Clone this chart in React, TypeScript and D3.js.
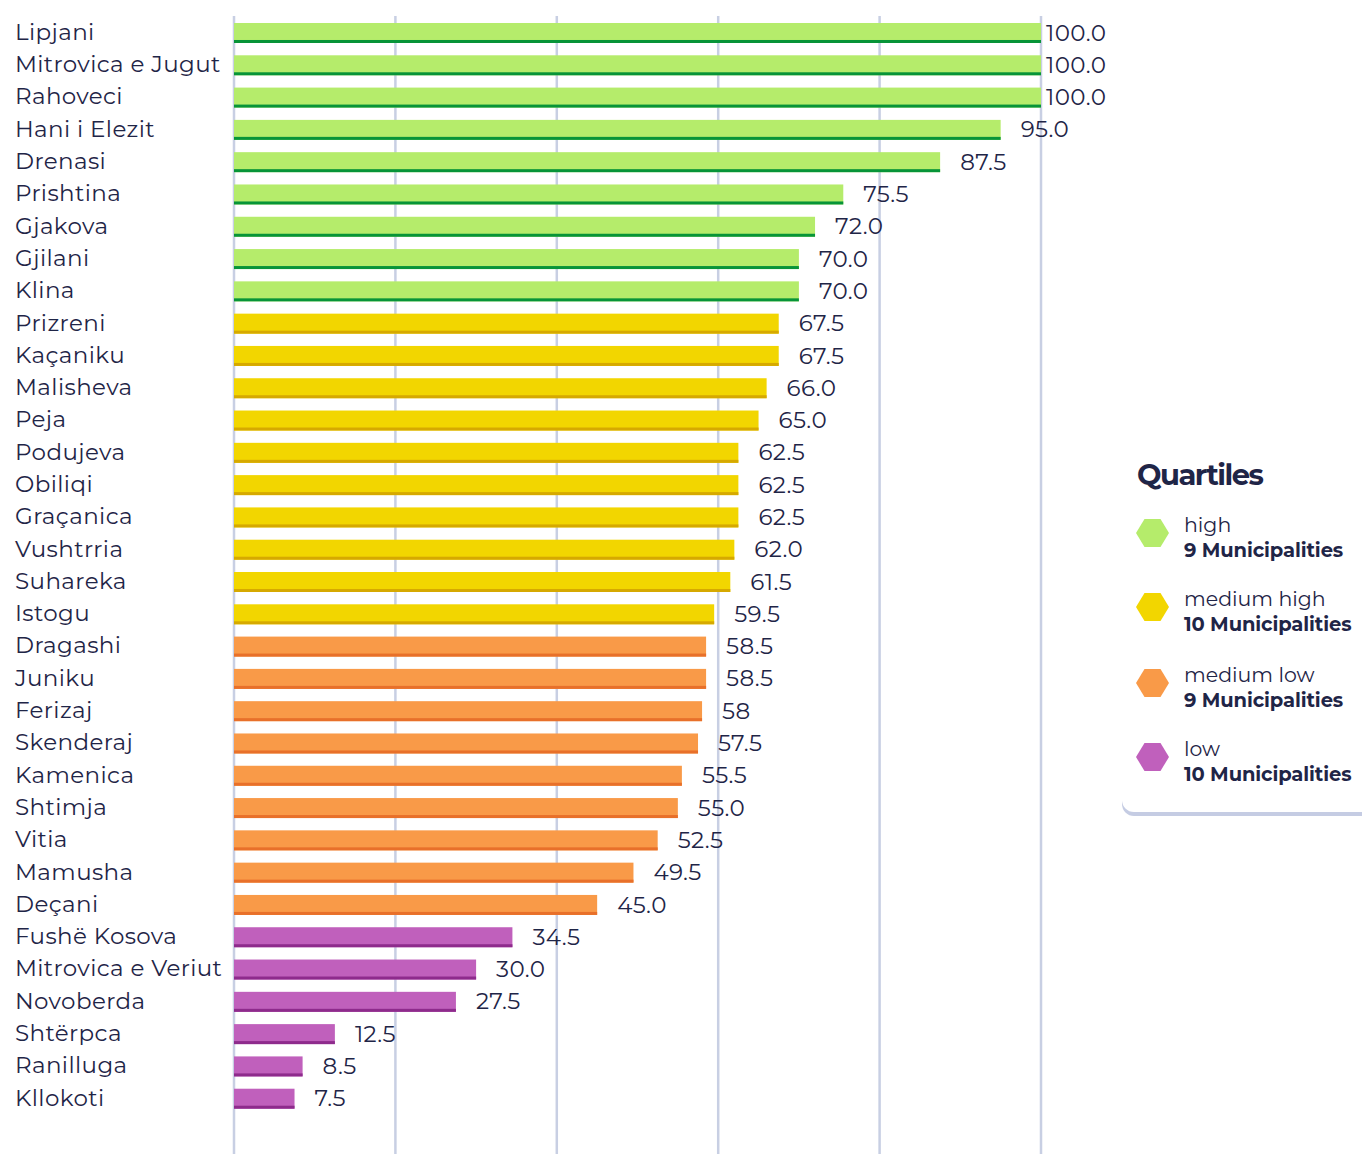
import React from "react";
import * as d3 from "d3";

const municipalities = [
  "Lipjani", "Mitrovica e Jugut", "Rahoveci", "Hani i Elezit", "Drenasi", "Prishtina", "Gjakova", "Gjilani", "Klina",
  "Prizreni", "Kaçaniku", "Malisheva", "Peja", "Podujeva", "Obiliqi", "Graçanica", "Vushtrria", "Suhareka", "Istogu",
  "Dragashi", "Juniku", "Ferizaj", "Skenderaj", "Kamenica", "Shtimja", "Vitia", "Mamusha", "Deçani",
  "Fushë Kosova", "Mitrovica e Veriut", "Novoberda", "Shtërpca", "Ranilluga", "Kllokoti",
];
const values = [
  100, 100, 100, 95, 87.5, 75.5, 72, 70, 70,
  67.5, 67.5, 66, 65, 62.5, 62.5, 62.5, 62, 61.5, 59.5,
  58.5, 58.5, 58, 57.5, 55.5, 55, 52.5, 49.5, 45,
  34.5, 30, 27.5, 12.5, 8.5, 7.5,
];
const valueLabels = [
  "100.0", "100.0", "100.0", "95.0", "87.5", "75.5", "72.0", "70.0", "70.0",
  "67.5", "67.5", "66.0", "65.0", "62.5", "62.5", "62.5", "62.0", "61.5", "59.5",
  "58.5", "58.5", "58", "57.5", "55.5", "55.0", "52.5", "49.5", "45.0",
  "34.5", "30.0", "27.5", "12.5", "8.5", "7.5",
];
const quartileOf = [
  0, 0, 0, 0, 0, 0, 0, 0, 0,
  1, 1, 1, 1, 1, 1, 1, 1, 1, 1,
  2, 2, 2, 2, 2, 2, 2, 2, 2,
  3, 3, 3, 3, 3, 3,
];
const quartileNames = ["high", "medium high", "medium low", "low"];
const quartileCounts = ["9 Municipalities", "10 Municipalities", "9 Municipalities", "10 Municipalities"];
const fillColors = ["#b5ec6b", "#f2d600", "#f99a48", "#c060bc"];
const edgeColors = ["#079438", "#d6a900", "#e8702a", "#8e2b8c"];
const xTicks = [0, 20, 40, 60, 80, 100];

const W = 1362;
const H = 1154;
const FONT = "Montserrat, 'Noto Sans', sans-serif";
const TEXT = "#1f2547";

export default function App() {
  const x = d3.scaleLinear().domain([0, 100]).range([234, 1041]);
  const y = d3.scaleBand<string>().domain(municipalities).range([23, 1108.7]).paddingInner(0.381).paddingOuter(0);
  const bw = y.bandwidth();
  const hex = (cx: number, cy: number) => {
    const pts: [number, number][] = [
      [cx - 16.5, cy], [cx - 8, cy - 14], [cx + 8, cy - 14], [cx + 16.5, cy], [cx + 8, cy + 14], [cx - 8, cy + 14],
    ];
    return d3.line()(pts)! + "Z";
  };
  const legendY = [533, 607, 683, 757];
  return (
    <svg width={W} height={H} style={{ position: "absolute", left: 0, top: 0 }} fontFamily={FONT}>
      <rect width={W} height={H} fill="#ffffff" />
      {xTicks.map((t) => (
        <line key={t} x1={x(t)} x2={x(t)} y1={16} y2={H} stroke="#c8cfe3" strokeWidth={2.5} />
      ))}
      {municipalities.map((m, i) => {
        const y0 = y(m)!;
        const q = quartileOf[i];
        const xe = x(values[i]);
        const lx = Math.min(xe + 20, x(100) + 5);
        return (
          <g key={m}>
            <text x={15} y={y0 + bw / 2} dy="0.3em" fontSize={23} letterSpacing={0.4} fill={TEXT}>{m}</text>
            <rect x={x(0)} y={y0} width={xe - x(0)} height={bw} fill={fillColors[q]} />
            <rect x={x(0)} y={y0 + bw - 3} width={xe - x(0)} height={3} fill={edgeColors[q]} />
            <text x={lx} y={y0 + bw / 2} dy="0.33em" fontSize={23} letterSpacing={0.4} fill={TEXT}>{valueLabels[i]}</text>
          </g>
        );
      })}
      <g>
        <rect x={1122} y={420} width={260} height={396} rx={12} fill="#c5cce3" />
        <rect x={1122} y={416} width={260} height={396} rx={12} fill="#ffffff" />
        <text x={1137} y={485} fontSize={29} fontWeight={700} fill={TEXT} letterSpacing={-1.5}>Quartiles</text>
        {quartileNames.map((qn, i) => (
          <g key={qn}>
            <path d={hex(1152.5, legendY[i])} fill={fillColors[i]} />
            <text x={1184} y={legendY[i] - 1} fontSize={20.5} fill={TEXT}>{qn}</text>
            <text x={1184} y={legendY[i] + 24} fontSize={19.5} fontWeight={700} fill={TEXT} letterSpacing={-0.1}>{quartileCounts[i]}</text>
          </g>
        ))}
      </g>
    </svg>
  );
}
